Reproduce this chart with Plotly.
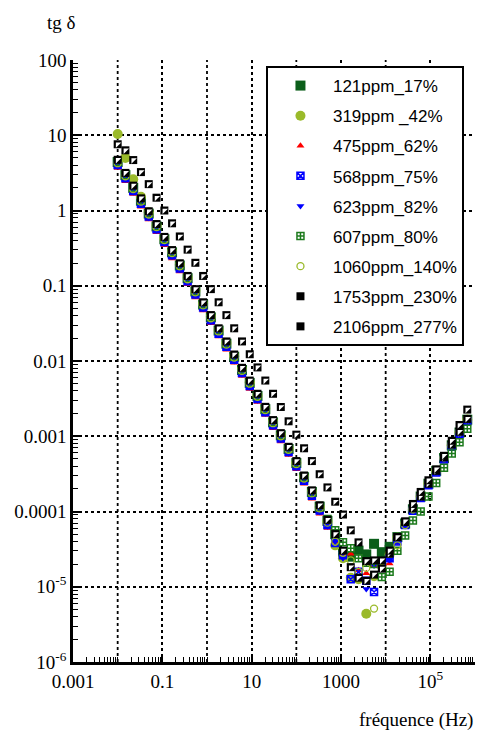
import plotly.graph_objects as go

# ---------------- data ----------------
freq = [0.01, 0.0149, 0.0223, 0.0332, 0.0496, 0.0741, 0.111, 0.165, 0.246, 0.368,
        0.549, 0.819, 1.22, 1.82, 2.72, 4.06, 6.07, 9.05, 13.5, 20.2,
        30.1, 44.9, 67.1, 100, 149, 223, 333, 497, 742, 1107,
        1652, 2466, 3681, 5494, 8200, 12240, 18270, 27270, 40700, 60750,
        90680, 135300, 202000, 301500, 450000, 671600]

ppm121 = [4.4, 2.95, 2.0, 1.35, 0.91, 0.615, 0.415, 0.278, 0.186, 0.126,
          0.0840, 0.0562, 0.0380, 0.0254, 0.0170, 0.0114, 0.00760, 0.00512, 0.00343, 0.00229,
          0.00153, 0.00103, 0.000678, 0.000440, 0.000285, 0.000182, 0.000116, 7.5e-5, 5.0e-5, 2.88e-5,
          2.51e-5, 3.02e-5, 2.69e-5, 3.72e-5, 2.88e-5, 3.39e-5, 4.57e-5, 6.92e-5, 1.07e-4, 1.58e-4,
          2.34e-4, 3.47e-4, 5.13e-4, 7.59e-4, 1.12e-3, 1.66e-3]

ppm319 = [10.4, 5.0, 2.6, 1.52, 0.95, 0.63, 0.425, 0.283, 0.19, 0.128,
          0.0855, 0.0572, 0.0387, 0.0258, 0.0173, 0.0116, 0.00772, 0.00522, 0.00349, 0.00233,
          0.00156, 0.00104, 0.000688, 0.000445, 0.000287, 0.000181, 0.000115, 7.4e-5, 3.55e-5, 2.40e-5,
          1.32e-5, 1.26e-5, 4.37e-6, 1.38e-5, 1.91e-5, 2.69e-5, 4.47e-5, 6.92e-5, 1.07e-4, 1.58e-4,
          2.34e-4, 3.47e-4, 5.13e-4, 7.59e-4, 1.12e-3, 1.66e-3]

ppm475 = [3.67, 2.45, 1.66, 1.12, 0.758, 0.513, 0.346, 0.231, 0.155, 0.105,
          0.0700, 0.0468, 0.0317, 0.0211, 0.0141, 0.00945, 0.00631, 0.00426, 0.00285, 0.00191,
          0.00128, 0.000851, 0.000563, 0.000363, 0.000234, 0.000148, 9.36e-5, 6.02e-5, 3.98e-5, 2.75e-5,
          2.75e-5, 1.66e-5, 1.51e-5, 1.91e-5, 2.09e-5, 2.04e-5, 3.80e-5, 6.61e-5, 1.07e-4, 1.62e-4,
          2.40e-4, 3.55e-4, 5.25e-4, 7.94e-4, 1.17e-3, 1.74e-3]

ppm568 = [4.02, 2.69, 1.82, 1.23, 0.831, 0.563, 0.380, 0.254, 0.170, 0.115,
          0.0767, 0.0513, 0.0347, 0.0231, 0.0155, 0.0104, 0.00691, 0.00467, 0.00313, 0.00209,
          0.00140, 0.000933, 0.000617, 0.000398, 0.000257, 0.000162, 0.000103, 6.6e-5, 3.80e-5, 2.63e-5,
          1.26e-5, 1.58e-5, 1.20e-5, 8.51e-6, 2.00e-5, 2.40e-5, 3.98e-5, 6.61e-5, 1.02e-4, 1.51e-4,
          2.24e-4, 3.31e-4, 4.90e-4, 7.24e-4, 1.07e-3, 1.58e-3]

ppm623 = [3.89, 2.60, 1.76, 1.19, 0.804, 0.544, 0.367, 0.245, 0.164, 0.111,
          0.0741, 0.0496, 0.0336, 0.0224, 0.0150, 0.0100, 0.00668, 0.00452, 0.00302, 0.00202,
          0.00135, 0.000902, 0.000596, 0.000385, 0.000248, 0.000157, 9.92e-5, 6.39e-5, 3.98e-5, 2.40e-5,
          1.91e-5, 1.41e-5, 9.33e-6, 1.91e-5, 2.00e-5, 2.29e-5, 3.98e-5, 6.46e-5, 1.02e-4, 1.51e-4,
          2.24e-4, 3.31e-4, 4.90e-4, 7.24e-4, 1.07e-3, 1.58e-3]

ppm607 = [4.41, 2.95, 1.99, 1.35, 0.912, 0.617, 0.416, 0.278, 0.186, 0.126,
          0.0841, 0.0563, 0.0381, 0.0254, 0.0170, 0.0114, 0.00758, 0.00513, 0.00343, 0.00229,
          0.00153, 0.00102, 0.000676, 0.000437, 0.000281, 0.000178, 0.000113, 7.94e-5, 5.62e-5, 3.89e-5,
          3.24e-5, 2.40e-5, 2.09e-5, 2.00e-5, 1.35e-5, 1.58e-5, 3.02e-5, 4.79e-5, 7.59e-5, 1.00e-4,
          1.58e-4, 2.40e-4, 3.80e-4, 5.89e-4, 8.32e-4, 1.26e-3]

ppm1060 = [4.25, 2.85, 1.93, 1.31, 0.885, 0.600, 0.405, 0.271, 0.181, 0.122,
           0.0818, 0.0548, 0.0370, 0.0247, 0.0165, 0.0111, 0.00738, 0.00499, 0.00334, 0.00223,
           0.00149, 0.000998, 0.000660, 0.000426, 0.000274, 0.000174, 0.000110, 7.1e-5, 3.98e-5, 2.82e-5,
           2.24e-5, 1.58e-5, 1.78e-5, 5.13e-6, 1.78e-5, 2.75e-5, 3.55e-5, 6.61e-5, 1.07e-4, 1.62e-4,
           2.40e-4, 3.55e-4, 5.25e-4, 7.76e-4, 1.15e-3, 1.70e-3]

ppm1753 = [4.72, 3.16, 2.14, 1.45, 0.977, 0.661, 0.446, 0.298, 0.199, 0.135,
           0.0901, 0.0603, 0.0408, 0.0272, 0.0182, 0.0122, 0.00812, 0.00549, 0.00367, 0.00246,
           0.00164, 0.00110, 0.000724, 0.000468, 0.000301, 0.000191, 0.000121, 7.76e-5, 5.01e-5, 3.02e-5,
           1.82e-5, 1.32e-5, 1.20e-5, 1.45e-5, 1.74e-5, 2.75e-5, 4.57e-5, 7.24e-5, 1.10e-4, 1.58e-4,
           2.34e-4, 3.47e-4, 5.25e-4, 7.76e-4, 1.15e-3, 1.70e-3]

ppm2106 = [7.59, 6.31, 4.68, 3.24, 2.24, 1.48, 1.00, 0.676, 0.452, 0.302,
           0.202, 0.135, 0.0902, 0.0603, 0.0407, 0.0272, 0.0182, 0.0123, 0.00822, 0.00550,
           0.00367, 0.00245, 0.00158, 0.00105, 0.000692, 0.000468, 0.000313, 0.000209, 0.000135, 9.12e-5,
           5.62e-5, 3.89e-5, 2.19e-5, 2.24e-5, 2.24e-5, 3.02e-5, 4.57e-5, 7.41e-5, 1.26e-4, 1.82e-4,
           2.60e-4, 3.63e-4, 5.50e-4, 8.71e-4, 1.41e-3, 2.26e-3]

names = ["121ppm_17%", "319ppm _42%", "475ppm_62%", "568ppm_75%", "623ppm_82%",
         "607ppm_80%", "1060ppm_140%", "1753ppm_230%", "2106ppm_277%"]
values = [ppm121, ppm319, ppm475, ppm568, ppm623, ppm607, ppm1060, ppm1753, ppm2106]

x_tick_vals = [1e-3, 1e-1, 10, 1e3, 1e5]
x_tick_text = ["0.001", "0.1", "10", "1000", "10<sup>5</sup>"]
x_extra_grid = [1e-2, 1, 100, 1e4]
y_tick_vals = [1e-6, 1e-5, 1e-4, 1e-3, 1e-2, 1e-1, 1, 10, 100]
y_tick_text = ["10<sup>-6</sup>", "10<sup>-5</sup>", "0.0001", "0.001", "0.01", "0.1", "1", "10", "100"]

# ---------------- styles ----------------
DKGREEN = "#0b5e1a"
YGREEN = "#9aba2a"
GRIDGREEN = "#1d7a1d"
styles = [
    dict(symbol="square", size=10, color=DKGREEN),
    dict(symbol="circle", size=10, color=YGREEN),
    dict(symbol="triangle-up", size=7, color="#ff0000"),
    dict(symbol="square-x-open", size=7, color="#0000ff", line=dict(width=1.5)),
    dict(symbol="triangle-down", size=7, color="#0000ff"),
    dict(symbol="square-cross-open", size=7, color=GRIDGREEN, line=dict(width=1.5)),
    dict(symbol="circle-open", size=7, color=YGREEN, line=dict(width=1.3)),
    dict(symbol="square", size=8, color="black", line=dict(width=0)),
    dict(symbol="square", size=8, color="black", line=dict(width=0)),
]
half_square = [False] * 7 + [True, True]

fig = go.Figure()
for i, (nm, vals, st) in enumerate(zip(names, values, styles)):
    fig.add_trace(go.Scatter(x=freq, y=vals, mode="markers", name=nm,
                             marker=st, legendgroup=f"g{i}"))
    if half_square[i]:
        fig.add_trace(go.Scatter(x=freq, y=vals, mode="markers", name=nm,
                                 marker=dict(symbol="triangle-nw", size=6, color="white",
                                             line=dict(width=0)),
                                 legendgroup=f"g{i}", showlegend=False,
                                 hoverinfo="skip"))

SERIF = "Liberation Serif"
SANS = "Liberation Sans"

GRID_DASH = "3px,3px"
GRID_W = 1.8

# dotted grid lines on the unlabeled decades of the x axis
for gx in x_extra_grid:
    fig.add_shape(type="line", xref="x", yref="paper", x0=gx, x1=gx, y0=0, y1=1,
                  line=dict(color="black", width=GRID_W, dash=GRID_DASH), layer="below")

minor_x = [m * 10 ** e for e in range(-3, 6) for m in range(2, 10)] + x_extra_grid
minor_y = [m * 10 ** e for e in range(-6, 2) for m in range(2, 10)]

common_axis = dict(
    type="log", showline=True, linewidth=2.5, linecolor="black", mirror=False,
    showgrid=True, gridcolor="black", gridwidth=GRID_W, griddash=GRID_DASH,
    ticks="inside", ticklen=8, tickwidth=1.5, tickcolor="black",
    zeroline=False, tickfont=dict(family=SERIF, size=19, color="black"),
)

fig.update_xaxes(range=[-3, 6], tickmode="array", tickvals=x_tick_vals, ticktext=x_tick_text,
                 minor=dict(tickvals=minor_x, ticks="inside", ticklen=5, tickwidth=1,
                            tickcolor="black", showgrid=False),
                 **common_axis)
fig.update_yaxes(range=[-6, 2], tickmode="array", tickvals=y_tick_vals, ticktext=y_tick_text,
                 minor=dict(tickvals=minor_y, ticks="inside", ticklen=5, tickwidth=1,
                            tickcolor="black", showgrid=False),
                 **common_axis)

fig.update_layout(
    width=477, height=734,
    margin=dict(l=73, r=2, t=60, b=72),
    paper_bgcolor="white", plot_bgcolor="white",
    showlegend=True,
    legend=dict(x=0.48, y=0.99, xanchor="left", yanchor="top",
                bgcolor="white", bordercolor="black", borderwidth=2,
                font=dict(family=SANS, size=17, color="black"),
                itemwidth=55, tracegroupgap=5, itemsizing="trace",
                traceorder="grouped"),
    annotations=[
        dict(text="tg δ", xref="paper", yref="paper", x=-0.07, y=1.063,
             xanchor="left", yanchor="middle", showarrow=False,
             font=dict(family=SERIF, size=19, color="black")),
        dict(text="fréquence (Hz)", xref="paper", yref="paper", x=1.0, y=-0.096,
             xanchor="right", yanchor="middle", showarrow=False,
             font=dict(family=SERIF, size=19, color="black")),
    ],
)

fig.write_html("out.html", config={"displayModeBar": False},
               post_script="document.body.style.margin='0';document.body.style.padding='0';")
